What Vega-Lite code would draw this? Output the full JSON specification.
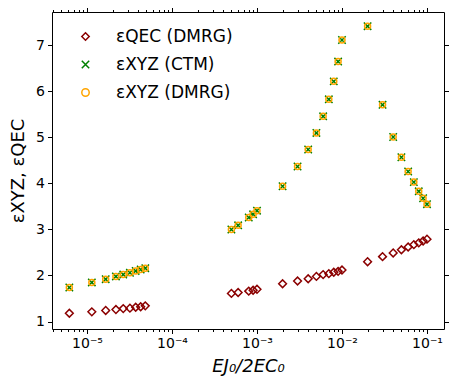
{
  "$schema": "https://vega.github.io/schema/vega-lite/v6.json",
  "width": 392,
  "height": 317,
  "autosize": {"type": "none"},
  "padding": {"left": 52, "top": 12, "right": 13, "bottom": 63},
  "background": "white",
  "config": {
    "font": "DejaVu Sans",
    "view": {"stroke": "black", "strokeWidth": 1},
    "axis": {"domain": false, "grid": false, "tickColor": "black", "labelColor": "black", "titleColor": "black", "tickWidth": 1, "labelFont": "DejaVu Sans", "titleFont": "DejaVu Sans"},
    "legend": {"labelFont": "DejaVu Sans", "labelFontSize": 17, "labelColor": "black", "symbolStrokeWidth": 1.5, "symbolSize": 55, "symbolOpacity": 1, "rowPadding": 10, "labelOffset": 22, "padding": 0}
  },
  "data": {
    "values": [
      {"x": 6.2e-6, "qec": 1.18, "xyz": 1.74},
      {"x": 1.14e-5, "qec": 1.21, "xyz": 1.85},
      {"x": 1.66e-5, "qec": 1.24, "xyz": 1.92},
      {"x": 2.19e-5, "qec": 1.26, "xyz": 1.98},
      {"x": 2.67e-5, "qec": 1.28, "xyz": 2.02},
      {"x": 3.2e-5, "qec": 1.29, "xyz": 2.06},
      {"x": 3.74e-5, "qec": 1.31, "xyz": 2.10},
      {"x": 4.28e-5, "qec": 1.32, "xyz": 2.13},
      {"x": 4.85e-5, "qec": 1.34, "xyz": 2.16},
      {"x": 5e-4, "qec": 1.61, "xyz": 3.00},
      {"x": 6e-4, "qec": 1.63, "xyz": 3.09},
      {"x": 8e-4, "qec": 1.66, "xyz": 3.26},
      {"x": 9e-4, "qec": 1.68, "xyz": 3.33},
      {"x": 1e-3, "qec": 1.70, "xyz": 3.41},
      {"x": 2e-3, "qec": 1.82, "xyz": 3.94},
      {"x": 3e-3, "qec": 1.88, "xyz": 4.37},
      {"x": 4e-3, "qec": 1.93, "xyz": 4.74},
      {"x": 5e-3, "qec": 1.98, "xyz": 5.10},
      {"x": 6e-3, "qec": 2.02, "xyz": 5.46},
      {"x": 7e-3, "qec": 2.04, "xyz": 5.83},
      {"x": 8e-3, "qec": 2.07, "xyz": 6.22},
      {"x": 9e-3, "qec": 2.09, "xyz": 6.65},
      {"x": 1e-2, "qec": 2.12, "xyz": 7.12},
      {"x": 2e-2, "qec": 2.30, "xyz": 7.42},
      {"x": 3e-2, "qec": 2.41, "xyz": 5.71},
      {"x": 4e-2, "qec": 2.49, "xyz": 5.01},
      {"x": 5e-2, "qec": 2.56, "xyz": 4.57},
      {"x": 6e-2, "qec": 2.62, "xyz": 4.26},
      {"x": 7e-2, "qec": 2.67, "xyz": 4.03},
      {"x": 8e-2, "qec": 2.71, "xyz": 3.83},
      {"x": 9e-2, "qec": 2.75, "xyz": 3.68},
      {"x": 1e-1, "qec": 2.79, "xyz": 3.55}
    ]
  },
  "layer": [
    {
      "mark": {"type": "point", "filled": false, "size": 60, "strokeWidth": 1.5, "opacity": 1},
      "encoding": {
        "x": {"field": "x", "type": "quantitative",
          "scale": {"type": "log", "domain": [3.876e-6, 0.1585], "nice": false},
          "axis": {"orient": "bottom",
            "values": [4e-6,5e-6,6e-6,7e-6,8e-6,9e-6,1e-5,2e-5,3e-5,4e-5,5e-5,6e-5,7e-5,8e-5,9e-5,1e-4,2e-4,3e-4,4e-4,5e-4,6e-4,7e-4,8e-4,9e-4,1e-3,2e-3,3e-3,4e-3,5e-3,6e-3,7e-3,8e-3,9e-3,1e-2,2e-2,3e-2,4e-2,5e-2,6e-2,7e-2,8e-2,9e-2,1e-1],
            "labelExpr": "abs(log(datum.value)/LN10 - round(log(datum.value)/LN10)) < 0.01 ? '10' + ['⁻⁵','⁻⁴','⁻³','⁻²','⁻¹'][round(log(datum.value)/LN10)+5] : ''",
            "tickSize": {"condition": {"test": "abs(log(datum.value)/LN10 - round(log(datum.value)/LN10)) < 0.01", "value": 4.5}, "value": 2.5},
            "labelOverlap": false, "labelFlush": false,
            "labelFontSize": 14, "labelPadding": 3,
            "title": "EJ₀/2EC₀", "titleFontSize": 18, "titleFontStyle": "italic", "titleFontWeight": "normal", "titlePadding": 7}},
        "y": {"field": "qec", "type": "quantitative",
          "scale": {"domain": [0.837, 7.728], "nice": false, "zero": false},
          "axis": {"orient": "left", "values": [1,2,3,4,5,6,7], "tickSize": 4.5, "labelFontSize": 14, "labelPadding": 3,
            "title": "εXYZ, εQEC", "titleFontSize": 18, "titleFontWeight": "normal", "titlePadding": 8}},
        "color": {"datum": "εQEC (DMRG)",
          "scale": {"domain": ["εQEC (DMRG)", "εXYZ (CTM)", "εXYZ (DMRG)"], "range": ["#8b0000", "#008000", "#ffa500"]},
          "legend": {"orient": "none", "legendX": 25, "legendY": 16, "title": null}},
        "shape": {"datum": "εQEC (DMRG)",
          "scale": {"domain": ["εQEC (DMRG)", "εXYZ (CTM)", "εXYZ (DMRG)"], "range": ["diamond", "M-1,-1L1,1M-1,1L1,-1", "circle"]},
          "legend": {"orient": "none", "legendX": 25, "legendY": 16, "title": null}}
      }
    },
    {
      "mark": {"type": "point", "filled": false, "size": 55, "strokeWidth": 1.5, "opacity": 1},
      "encoding": {
        "x": {"field": "x", "type": "quantitative",
          "axis": {"orient": "top",
            "values": [4e-6,5e-6,6e-6,7e-6,8e-6,9e-6,1e-5,2e-5,3e-5,4e-5,5e-5,6e-5,7e-5,8e-5,9e-5,1e-4,2e-4,3e-4,4e-4,5e-4,6e-4,7e-4,8e-4,9e-4,1e-3,2e-3,3e-3,4e-3,5e-3,6e-3,7e-3,8e-3,9e-3,1e-2,2e-2,3e-2,4e-2,5e-2,6e-2,7e-2,8e-2,9e-2,1e-1],
            "labels": false, "title": null,
            "tickSize": {"condition": {"test": "abs(log(datum.value)/LN10 - round(log(datum.value)/LN10)) < 0.01", "value": 4.5}, "value": 2.5}}},
        "y": {"field": "xyz", "type": "quantitative",
          "axis": {"orient": "right", "values": [1,2,3,4,5,6,7], "tickSize": 4.5, "labels": false, "title": null}},
        "color": {"datum": "εXYZ (CTM)"},
        "shape": {"datum": "εXYZ (CTM)"}
      }
    },
    {
      "mark": {"type": "point", "filled": false, "size": 36, "strokeWidth": 1.5, "opacity": 1},
      "encoding": {
        "x": {"field": "x", "type": "quantitative", "axis": null},
        "y": {"field": "xyz", "type": "quantitative", "axis": null},
        "color": {"datum": "εXYZ (DMRG)"},
        "shape": {"datum": "εXYZ (DMRG)"}
      }
    }
  ],
  "resolve": {"axis": {"x": "independent", "y": "independent"}}
}
